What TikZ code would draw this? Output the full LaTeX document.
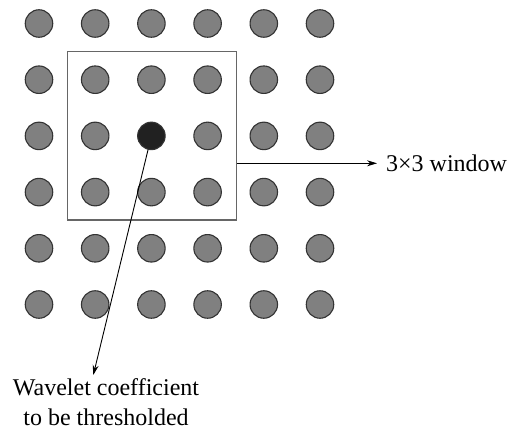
\documentclass[tikz,border=0pt]{standalone}
\usepackage{fontspec}
\setmainfont{Liberation Serif}
\usetikzlibrary{arrows.meta}
\begin{document}
\begin{tikzpicture}[x=1pt,y=-1pt,
  dot/.style={circle,draw=black!80,line width=1.1pt,fill=black!50,minimum size=27.5pt,inner sep=0pt},
  centerdot/.style={dot,fill=black!87},
  winbox/.style={draw=black!60,line width=1.1pt,minimum width=169pt,minimum height=168.3pt,inner sep=0pt},
  pointer/.style={line width=0.9pt,-{Stealth[length=10pt,width=6pt]}},
  lbl/.style={font=\fontsize{24}{30}\selectfont,inner sep=0pt}]
\useasboundingbox (0,0) rectangle (508,431);
\foreach \i in {1,...,6}{
  \foreach \j in {1,...,6}{
    \pgfmathsetmacro{\xx}{39+56.2*(\i-1)}
    \pgfmathsetmacro{\yy}{23.5+56.2*(\j-1)}
    \ifnum\i=3 \ifnum\j=3
      \node[centerdot] (c\i\j) at (\xx,\yy) {};
    \else
      \node[dot] (c\i\j) at (\xx,\yy) {};
    \fi\else
      \node[dot] (c\i\j) at (\xx,\yy) {};
    \fi
  }
}
\node[winbox] (win) at (151.8,135.85) {};
\node[lbl,anchor=west] (wl) at (386,163.3) {3×3 window};
\coordinate (wtip) at (377,163.3);
\draw[pointer] (win.east |- wtip) -- (wtip);
\node[lbl,align=center] (cl) at (106,402) {Wavelet coefficient\\to be thresholded};
\coordinate (ctip) at (93.3,375);
\draw[pointer] (c33) -- (ctip);
\end{tikzpicture}
\end{document}
